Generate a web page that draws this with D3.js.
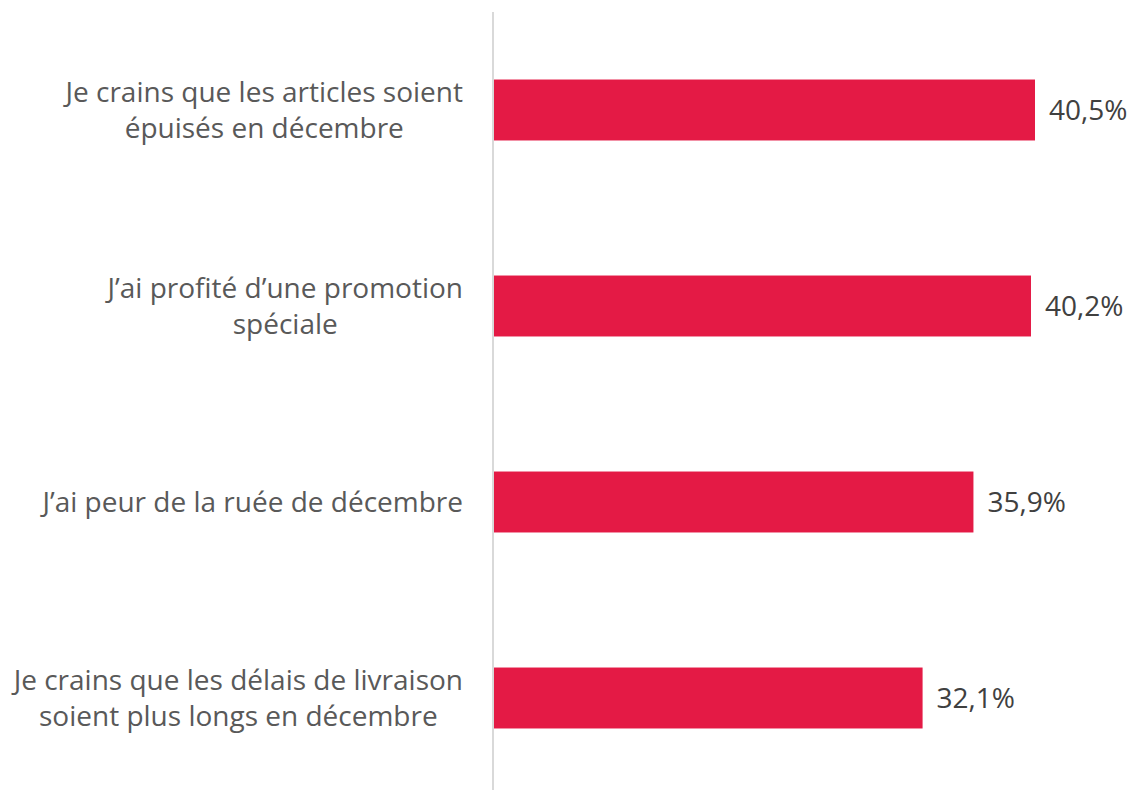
<!DOCTYPE html>
<html><head><meta charset="utf-8">
<script src="https://cdn.jsdelivr.net/npm/d3@7"></script>
<style>html,body{margin:0;padding:0;background:#fff;}</style>
</head><body>
<svg id="chart" width="1137" height="790"></svg>
<script>
const categories = [
  ["Je crains que les articles soient", "épuisés en décembre"],
  ["J’ai profité d’une promotion", "spéciale"],
  ["J’ai peur de la ruée de décembre"],
  ["Je crains que les délais de livraison", "soient plus longs en décembre"]
];
const values = [40.5, 40.2, 35.9, 32.1];
const valueLabels = ["40,5%", "40,2%", "35,9%", "32,1%"];

const svg = d3.select("#chart");
const font = "'Open Sans', sans-serif";
const fs = 28;
const x0 = 493;
const x = d3.scaleLinear().domain([0, 40.5]).range([x0, 1035]);
const y = d3.scaleBand().domain(d3.range(categories.length)).range([12, 796]).paddingInner(0.689).paddingOuter(0.3445);

svg.append("line").attr("x1", x0).attr("x2", x0).attr("y1", 12).attr("y2", 790)
  .attr("stroke", "#d9d9d9").attr("stroke-width", 2);

svg.selectAll("rect.bar").data(values).join("rect").attr("class","bar")
  .attr("x", x0 + 1).attr("y", (d,i)=>y(i)).attr("width", d=>x(d)-x0-1).attr("height", y.bandwidth())
  .attr("fill", "#e41a45");

svg.selectAll("text.val").data(values).join("text").attr("class","val")
  .attr("x", d=>x(d)+14).attr("y", (d,i)=>y(i)+y.bandwidth()/2)
  .attr("dy", "0.35em").attr("font-family", font).attr("font-size", fs).attr("fill", "#404040")
  .text((d,i)=>valueLabels[i]);

categories.forEach((lines, i) => {
  const cy = y(i) + y.bandwidth()/2;
  const g = svg.append("g");
  const lh = 36;
  const texts = lines.map((t, j) => g.append("text")
    .attr("y", cy + (j - (lines.length-1)/2)*lh).attr("dy", "0.35em")
    .attr("font-family", font).attr("font-size", fs).attr("fill", "#595959")
    .attr("text-anchor", "middle").text(t));
  const maxW = d3.max(texts, t => t.node().getComputedTextLength());
  texts.forEach(t => t.attr("x", 463 - maxW/2));
});
</script>
</body></html>
